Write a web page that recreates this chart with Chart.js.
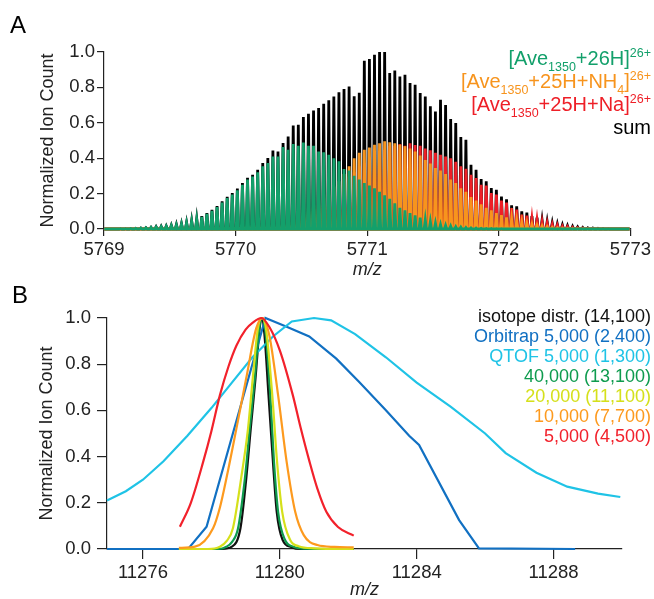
<!DOCTYPE html>
<html>
<head>
<meta charset="utf-8">
<title>Isotope distribution and resolution</title>
<script src="https://cdn.jsdelivr.net/npm/chart.js@4.4.1/dist/chart.umd.min.js"></script>
<style>
  html, body { margin: 0; padding: 0; background: #fff; }
  #wrap { position: relative; width: 654px; height: 599px; overflow: hidden; }
  canvas { position: absolute; left: 0; }
  #panelA { top: 0; }
  #panelB { top: 280px; }
</style>
</head>
<body>
<div id="wrap">
  <canvas id="panelA" width="654" height="280"></canvas>
  <canvas id="panelB" width="654" height="319"></canvas>
</div>
<script>
// ---- panel A: isotope peaks of the 26+ charge state, one value per peak ----
const firstPeakA = 5769.01
const chargeA = 26
const xTicksA = [5769, 5770, 5771, 5772, 5773]
const yTicks = [0, 0.2, 0.4, 0.6, 0.8, 1.0]

const protonatedA = [
  0, 0.001, 0.001, 0.002, 0.002, 0.003, 0.004, 0.005, 0.007, 0.009,
  0.011, 0.013, 0.015, 0.019, 0.023, 0.028, 0.034, 0.043, 0.053, 0.068,
  0.085, 0.102, 0.124, 0.150, 0.175, 0.195, 0.218, 0.250, 0.279, 0.296,
  0.320, 0.354, 0.373, 0.410, 0.410, 0.463, 0.448, 0.480, 0.470, 0.489,
  0.470, 0.470, 0.438, 0.433, 0.420, 0.400, 0.382, 0.339, 0.330, 0.300,
  0.280, 0.260, 0.245, 0.230, 0.210, 0.190, 0.170, 0.145, 0.120, 0.105,
  0.090, 0.077, 0.064, 0.052, 0.042, 0.033, 0.025, 0.020, 0.016, 0.012,
  0.010, 0.008, 0.006, 0.005, 0.004, 0.003, 0.003, 0.002, 0.002, 0.001,
  0.001, 0.001, 0.001, 0.001, 0, 0, 0, 0, 0, 0,
  0, 0, 0, 0, 0, 0, 0, 0, 0, 0,
  0, 0, 0, 0
]
const ammoniumA = [
  0, 0, 0, 0, 0, 0, 0, 0, 0, 0,
  0.001, 0.001, 0.001, 0.001, 0.002, 0.002, 0.003, 0.003, 0.004, 0.005,
  0.006, 0.007, 0.008, 0.010, 0.012, 0.014, 0.017, 0.020, 0.024, 0.028,
  0.033, 0.038, 0.044, 0.050, 0.058, 0.067, 0.078, 0.090, 0.104, 0.120,
  0.137, 0.155, 0.175, 0.196, 0.218, 0.240, 0.270, 0.310, 0.354, 0.400,
  0.430, 0.448, 0.460, 0.476, 0.485, 0.495, 0.490, 0.485, 0.476, 0.467,
  0.455, 0.438, 0.415, 0.390, 0.370, 0.345, 0.330, 0.310, 0.280, 0.260,
  0.230, 0.210, 0.180, 0.160, 0.140, 0.120, 0.105, 0.090, 0.078, 0.066,
  0.055, 0.046, 0.038, 0.031, 0.025, 0.020, 0.016, 0.012, 0.009, 0.007,
  0.005, 0.004, 0.003, 0.002, 0.001, 0.001, 0.001, 0, 0, 0,
  0, 0, 0, 0
]
const sodiumA = [
  0, 0, 0, 0, 0, 0, 0, 0, 0, 0,
  0, 0, 0, 0, 0, 0, 0, 0, 0, 0,
  0.001, 0.001, 0.002, 0.002, 0.003, 0.004, 0.005, 0.007, 0.009, 0.011,
  0.013, 0.015, 0.019, 0.023, 0.028, 0.034, 0.043, 0.053, 0.068, 0.085,
  0.102, 0.124, 0.150, 0.175, 0.195, 0.218, 0.250, 0.279, 0.296, 0.320,
  0.354, 0.373, 0.405, 0.410, 0.440, 0.448, 0.470, 0.470, 0.480, 0.470,
  0.485, 0.475, 0.470, 0.455, 0.445, 0.430, 0.420, 0.410, 0.400, 0.380,
  0.354, 0.340, 0.307, 0.288, 0.250, 0.245, 0.203, 0.195, 0.160, 0.150,
  0.118, 0.110, 0.082, 0.076, 0.058, 0.051, 0.040, 0.032, 0.025, 0.020,
  0.015, 0.012, 0.009, 0.007, 0.005, 0.004, 0.003, 0.002, 0.001, 0.001,
  0, 0, 0, 0
]
const sumA = [
  0, 0.001, 0.001, 0.002, 0.002, 0.003, 0.004, 0.005, 0.007, 0.009,
  0.012, 0.014, 0.016, 0.020, 0.025, 0.030, 0.037, 0.046, 0.057, 0.073,
  0.090, 0.108, 0.130, 0.156, 0.182, 0.203, 0.228, 0.260, 0.290, 0.307,
  0.335, 0.373, 0.401, 0.444, 0.438, 0.486, 0.523, 0.584, 0.589, 0.633,
  0.651, 0.670, 0.683, 0.708, 0.727, 0.749, 0.772, 0.791, 0.805, 0.750,
  0.770, 0.950, 0.960, 0.985, 1.000, 1.000, 0.881, 0.896, 0.862, 0.872,
  0.825, 0.815, 0.768, 0.749, 0.693, 0.664, 0.730, 0.700, 0.621, 0.599,
  0.520, 0.504, 0.363, 0.335, 0.282, 0.269, 0.232, 0.222, 0.184, 0.168,
  0.134, 0.128, 0.100, 0.092, 0.073, 0.064, 0.050, 0.042, 0.034, 0.028,
  0.022, 0.018, 0.014, 0.011, 0.008, 0.006, 0.005, 0.004, 0.003, 0.002,
  0.001, 0.001, 0, 0
]

// ---- panel B: peak profiles at different resolutions ----
const xTicksB = [11276, 11280, 11284, 11288]

const isoMz = [11277.05, 11278.3, 11278.6, 11278.85, 11279.02, 11279.15, 11279.29, 11279.41, 11279.47, 11279.55, 11279.67, 11279.8, 11279.91, 11280.08, 11280.34, 11280.6, 11282.16]
const isoInt = [0, 0, 0.01, 0.09, 0.306, 0.52, 0.74, 0.955, 1.0, 0.93, 0.666, 0.377, 0.161, 0.04, 0.008, 0, 0]

const orbiMz = [11274.95, 11277.32, 11277.86, 11279.58, 11280.2, 11280.86, 11281.65, 11282.32, 11283.1, 11283.78, 11284.07, 11285.24, 11285.82, 11288.63]
const orbiInt = [0, 0, 0.096, 1.0, 0.962, 0.92, 0.824, 0.723, 0.601, 0.49, 0.45, 0.125, 0.003, 0]

const qtofMz = [11274.95, 11275.5, 11276.0, 11276.6, 11277.3, 11278.0, 11278.6, 11279.2, 11279.8, 11280.35, 11281.0, 11281.5, 11282.2, 11283.1, 11284.0, 11285.0, 11286.0, 11286.6, 11287.5, 11288.4, 11289.3, 11289.95]
const qtofInt = [0.21, 0.25, 0.30, 0.38, 0.49, 0.61, 0.72, 0.83, 0.92, 0.985, 1.0, 0.99, 0.93, 0.83, 0.72, 0.615, 0.50, 0.415, 0.33, 0.27, 0.24, 0.225]

const res40kMz = [11277.05, 11278.2, 11278.44, 11278.6, 11278.78, 11278.98, 11279.12, 11279.27, 11279.4, 11279.48, 11279.58, 11279.72, 11279.83, 11279.95, 11280.15, 11280.4, 11280.7, 11282.16]
const res40kInt = [0, 0, 0.01, 0.03, 0.09, 0.306, 0.52, 0.74, 0.955, 1.0, 0.94, 0.666, 0.377, 0.161, 0.04, 0.01, 0.002, 0]

const res20kMz = [11277.05, 11277.9, 11278.25, 11278.45, 11278.63, 11278.87, 11279.07, 11279.21, 11279.36, 11279.48, 11279.6, 11279.78, 11279.92, 11280.07, 11280.3, 11280.55, 11281.0, 11282.16]
const res20kInt = [0, 0, 0.01, 0.035, 0.09, 0.306, 0.52, 0.74, 0.955, 1.0, 0.95, 0.666, 0.377, 0.161, 0.04, 0.012, 0.003, 0]

const res10kMz = [11277.05, 11277.52, 11278.05, 11278.25, 11278.44, 11278.73, 11279.02, 11279.31, 11279.5, 11279.7, 11279.95, 11280.2, 11280.45, 11280.7, 11281.1, 11281.6, 11282.16]
const res10kInt = [0.005, 0.01, 0.09, 0.18, 0.306, 0.52, 0.74, 0.955, 1.0, 0.92, 0.666, 0.377, 0.161, 0.06, 0.017, 0.009, 0.007]

const res5kMz = [11277.08, 11277.4, 11277.76, 11278.0, 11278.25, 11278.5, 11278.73, 11279.0, 11279.21, 11279.46, 11279.7, 11280.0, 11280.38, 11280.6, 11280.87, 11281.1, 11281.36, 11281.7, 11282.16]
const res5kInt = [0.096, 0.2, 0.377, 0.51, 0.666, 0.79, 0.88, 0.95, 0.98, 1.0, 0.96, 0.86, 0.666, 0.53, 0.377, 0.26, 0.161, 0.095, 0.058]

// colours
const GREEN_A = "#13a06b"
const ORANGE_A = "#f7941d"
const RED_A = "#ee1f27"
const FONT = "'Liberation Sans', Arial, sans-serif"
const AXIS = "#222"

Chart.defaults.font.family = FONT
Chart.defaults.color = AXIS

// each isotope peak is drawn as a narrow spike at its m/z
const isotopeStep = 1.00335 / chargeA
const mzA = protonatedA.map((_, i) => firstPeakA + i * isotopeStep)
const halfBase = isotopeStep * 0.22

function spikes(values) {
  const pts = []
  values.forEach((v, i) => {
    const x = mzA[i]
    pts.push({ x: x - halfBase, y: 0 }, { x: x, y: v }, { x: x + halfBase, y: 0 })
  })
  return pts
}

function profile(mz, ints) {
  return mz.map((x, i) => ({ x: x, y: ints[i] }))
}

function axisStyle(tickLength) {
  return {
    border: { display: true, color: AXIS, width: 1.2 },
    grid: { display: true, drawOnChartArea: false, drawTicks: true, tickLength: tickLength, color: AXIS, lineWidth: 1.2 },
  }
}

function panelLetter(letter, x, y) {
  return {
    id: "letter" + letter,
    afterDraw(chart) {
      const ctx = chart.ctx
      ctx.save()
      ctx.font = "24px " + FONT
      ctx.fillStyle = "#000"
      ctx.textBaseline = "alphabetic"
      ctx.fillText(letter, x, y)
      ctx.restore()
    },
  }
}

// legend for panel A with sub/superscripts
const legendA = [
  { color: GREEN_A, parts: [["[Ave", 0], ["1350", -1], ["+26H]", 0], ["26+", 1]] },
  { color: ORANGE_A, parts: [["[Ave", 0], ["1350", -1], ["+25H+NH", 0], ["4", -1], ["]", 0], ["26+", 1]] },
  { color: RED_A, parts: [["[Ave", 0], ["1350", -1], ["+25H+Na]", 0], ["26+", 1]] },
  { color: "#000", parts: [["sum", 0]] },
]

const legendAPlugin = {
  id: "legendA",
  afterDraw(chart) {
    const ctx = chart.ctx
    const mainFont = "20px " + FONT
    const smallFont = "12.5px " + FONT
    ctx.save()
    ctx.textBaseline = "alphabetic"
    legendA.forEach((line, i) => {
      const y = 65 + i * 23
      let total = 0
      line.parts.forEach(([t, lvl]) => {
        ctx.font = lvl === 0 ? mainFont : smallFont
        total += ctx.measureText(t).width
      })
      let x = 651 - total
      ctx.fillStyle = line.color
      line.parts.forEach(([t, lvl]) => {
        ctx.font = lvl === 0 ? mainFont : smallFont
        const dy = lvl === -1 ? 6 : lvl === 1 ? -8 : 0
        ctx.fillText(t, x, y + dy)
        x += ctx.measureText(t).width
      })
    })
    ctx.restore()
  },
}

const legendBPlugin = {
  id: "legendB",
  afterDraw(chart) {
    const ctx = chart.ctx
    ctx.save()
    ctx.font = "18px " + FONT
    ctx.textAlign = "right"
    ctx.textBaseline = "middle"
    chart.data.datasets.forEach((ds, i) => {
      ctx.fillStyle = ds.borderColor
      ctx.fillText(ds.label, 651, 37 + i * 20)
    })
    ctx.restore()
  },
}

const spikeStyle = { pointRadius: 0, borderWidth: 2.8, tension: 0, fill: "origin", clip: false }

const chartA = new Chart(document.getElementById("panelA"), {
  type: "line",
  data: {
    datasets: [
      { label: "[Ave1350+26H]26+", data: spikes(protonatedA), borderColor: GREEN_A, backgroundColor: GREEN_A, ...spikeStyle },
      { label: "[Ave1350+25H+NH4]26+", data: spikes(ammoniumA), borderColor: ORANGE_A, backgroundColor: ORANGE_A, ...spikeStyle },
      { label: "[Ave1350+25H+Na]26+", data: spikes(sodiumA), borderColor: RED_A, backgroundColor: RED_A, ...spikeStyle },
      { label: "sum", data: spikes(sumA), borderColor: "#000", backgroundColor: "#000", ...spikeStyle },
    ],
  },
  options: {
    responsive: false,
    devicePixelRatio: 1,
    animation: false,
    layout: { padding: { top: 52, right: 23, left: 0, bottom: 0 } },
    plugins: { legend: { display: false }, tooltip: { enabled: false } },
    scales: {
      x: {
        type: "linear",
        min: 5769,
        max: 5773,
        ...axisStyle(7),
        afterBuildTicks: (s) => { s.ticks = xTicksA.map((v) => ({ value: v })) },
        afterFit: (s) => { s.height = 51 },
        ticks: { font: { size: 18.5 }, padding: 3, maxRotation: 0, callback: (v) => String(v) },
        title: { display: true, text: "m/z", font: { size: 18, style: "italic", lineHeight: 1 }, padding: { top: 0, bottom: 1 } },
      },
      y: {
        min: 0,
        max: 1,
        ...axisStyle(7),
        afterBuildTicks: (s) => { s.ticks = yTicks.map((v) => ({ value: v })) },
        afterFit: (s) => { s.width = 104 },
        ticks: { font: { size: 18.5 }, padding: 2, callback: (v) => v.toFixed(1) },
        title: { display: true, text: "Normalized Ion Count", font: { size: 18 }, padding: { top: 37.5, bottom: 0 } },
      },
    },
  },
  plugins: [legendAPlugin, panelLetter("A", 10, 33)],
})

const lineStyle = { pointRadius: 0, borderWidth: 2.2, fill: false, clip: false }
const smooth = { cubicInterpolationMode: "monotone" }

const chartB = new Chart(document.getElementById("panelB"), {
  type: "line",
  data: {
    datasets: [
      { label: "isotope distr. (14,100)", data: profile(isoMz, isoInt), borderColor: "#111111", order: 7, ...lineStyle, ...smooth },
      { label: "Orbitrap 5,000 (2,400)", data: profile(orbiMz, orbiInt), borderColor: "#1170c2", order: 6, ...lineStyle, tension: 0 },
      { label: "QTOF 5,000 (1,300)", data: profile(qtofMz, qtofInt), borderColor: "#1fc3e6", order: 5, ...lineStyle, tension: 0 },
      { label: "40,000 (13,100)", data: profile(res40kMz, res40kInt), borderColor: "#0e9b4e", order: 4, ...lineStyle, ...smooth },
      { label: "20,000 (11,100)", data: profile(res20kMz, res20kInt), borderColor: "#d5e01b", order: 3, ...lineStyle, ...smooth },
      { label: "10,000 (7,700)", data: profile(res10kMz, res10kInt), borderColor: "#fd9a1e", order: 2, ...lineStyle, ...smooth },
      { label: "5,000 (4,500)", data: profile(res5kMz, res5kInt), borderColor: "#f2212b", order: 1, ...lineStyle, ...smooth },
    ],
  },
  options: {
    responsive: false,
    devicePixelRatio: 1,
    animation: false,
    layout: { padding: { top: 38, right: 32, left: 0, bottom: 0 } },
    plugins: { legend: { display: false }, tooltip: { enabled: false } },
    scales: {
      x: {
        type: "linear",
        min: 11274.95,
        max: 11290,
        ...axisStyle(10),
        afterBuildTicks: (s) => { s.ticks = xTicksB.map((v) => ({ value: v })) },
        afterFit: (s) => { s.height = 50 },
        ticks: { font: { size: 18.5 }, padding: 3, maxRotation: 0, callback: (v) => String(v) },
        title: { display: true, text: "m/z", font: { size: 18, style: "italic", lineHeight: 1 }, padding: { top: 0, bottom: 0 } },
      },
      y: {
        min: 0,
        max: 1,
        ...axisStyle(10),
        afterBuildTicks: (s) => { s.ticks = yTicks.map((v) => ({ value: v })) },
        afterFit: (s) => { s.width = 107 },
        ticks: { font: { size: 18.5 }, padding: 6, callback: (v) => v.toFixed(1) },
        title: { display: true, text: "Normalized Ion Count", font: { size: 18 }, padding: { top: 36, bottom: 0 } },
      },
    },
  },
  plugins: [legendBPlugin, panelLetter("B", 12, 23)],
})
</script>
</body>
</html>
